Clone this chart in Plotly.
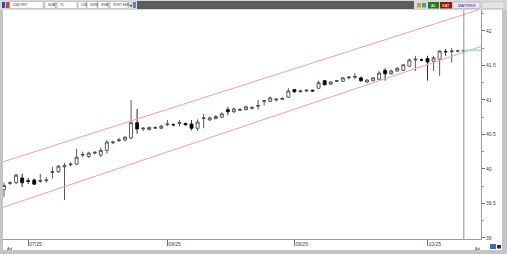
import plotly.graph_objects as go
import pandas as pd

# ---------------- data ----------------
dates = pd.bdate_range("2025-06-25", "2025-10-09")

opens = [39.70, 39.79, 39.80, 39.87, 39.83, 39.84, 39.82, 39.83, 39.95, 39.96,
         40.03, 40.06, 40.07, 40.20, 40.18, 40.23, 40.20, 40.27, 40.38, 40.41,
         40.42, 40.45, 40.67, 40.58, 40.57, 40.59, 40.59, 40.64, 40.64, 40.66,
         40.66, 40.65, 40.59, 40.73, 40.71, 40.73, 40.75, 40.86, 40.83, 40.85,
         40.86, 40.88, 40.91, 40.98, 40.98, 41.00, 41.01, 41.04, 41.15, 41.12,
         41.13, 41.14, 41.17, 41.28, 41.23, 41.27, 41.27, 41.32, 41.33, 41.32,
         41.26, 41.28, 41.30, 41.43, 41.38, 41.42, 41.43, 41.49, 41.58, 41.58,
         41.60, 41.56, 41.59, 41.70, 41.70, 41.71, 41.71]
highs = [39.80, 39.82, 39.93, 39.93, 39.87, 39.86, 39.93, 39.88, 40.03, 40.06,
         40.09, 40.10, 40.29, 40.25, 40.25, 40.26, 40.31, 40.42, 40.41, 40.45,
         40.48, 41.00, 40.87, 40.61, 40.62, 40.62, 40.64, 40.71, 40.66, 40.71,
         40.67, 40.71, 40.72, 40.80, 40.76, 40.78, 40.82, 40.90, 40.89, 40.88,
         40.92, 40.91, 41.00, 41.00, 41.05, 41.03, 41.04, 41.17, 41.16, 41.15,
         41.16, 41.15, 41.28, 41.29, 41.27, 41.29, 41.33, 41.35, 41.39, 41.34,
         41.30, 41.33, 41.42, 41.46, 41.44, 41.48, 41.52, 41.60, 41.64, 41.60,
         41.64, 41.64, 41.72, 41.74, 41.75, 41.73, 41.73]
lows = [39.59, 39.77, 39.78, 39.74, 39.78, 39.77, 39.80, 39.80, 39.86, 39.94,
        39.55, 40.04, 40.06, 40.17, 40.16, 40.21, 40.17, 40.22, 40.36, 40.39,
        40.40, 40.43, 40.51, 40.55, 40.56, 40.58, 40.58, 40.62, 40.62, 40.62,
        40.63, 40.56, 40.55, 40.59, 40.70, 40.72, 40.74, 40.78, 40.81, 40.84,
        40.85, 40.86, 40.86, 40.92, 40.97, 40.98, 41.00, 41.03, 41.10, 41.11,
        41.12, 41.12, 41.16, 41.21, 41.22, 41.26, 41.26, 41.30, 41.30, 41.26,
        41.25, 41.27, 41.29, 41.28, 41.37, 41.41, 41.42, 41.48, 41.42, 41.56,
        41.28, 41.42, 41.35, 41.64, 41.54, 41.69, 41.70]
closes = [39.76, 39.80, 39.91, 39.80, 39.82, 39.78, 39.83, 39.84, 39.96, 40.04,
          40.05, 40.07, 40.17, 40.21, 40.23, 40.24, 40.27, 40.39, 40.39, 40.42,
          40.46, 40.67, 40.58, 40.59, 40.60, 40.60, 40.62, 40.65, 40.64, 40.67,
          40.64, 40.59, 40.68, 40.74, 40.74, 40.76, 40.80, 40.83, 40.87, 40.86,
          40.90, 40.89, 40.92, 40.99, 41.03, 41.01, 41.02, 41.13, 41.12, 41.13,
          41.14, 41.13, 41.25, 41.22, 41.26, 41.28, 41.32, 41.33, 41.34, 41.28,
          41.29, 41.32, 41.39, 41.38, 41.42, 41.46, 41.51, 41.58, 41.59, 41.58,
          41.55, 41.61, 41.71, 41.70, 41.71, 41.71, 41.72]

# regression channel anchors (bar index, value)
channel_x = [-1, 80]
channel_upper = [40.08, 42.35]
channel_lower = [39.42, 41.81]

y_ticks = [39, 39.5, 40, 40.5, 41, 41.5, 42]

idx = list(range(len(dates)))
tick_idx = [i for i in idx if i > 0 and dates[i].month != dates[i - 1].month]
tick_text = [dates[i].strftime("%m/%y") for i in tick_idx]

# ---------------- geometry helpers (chrome) ----------------
W, H = 507, 254
ML, MR, MT, MB = 3, 26, 10, 15
PW, PH = W - ML - MR, H - MT - MB


def px(x):
    return (x - ML) / PW


def py(y):
    return (H - MB - y) / PH


fig = go.Figure()

fig.add_trace(go.Scatter(x=channel_x, y=channel_upper, mode="lines",
                         line=dict(color="#f2a0a0", width=1), hoverinfo="skip"))
fig.add_trace(go.Scatter(x=channel_x, y=channel_lower, mode="lines",
                         line=dict(color="#f2a0a0", width=1), hoverinfo="skip"))

fig.add_trace(go.Candlestick(
    x=idx, open=opens, high=highs, low=lows, close=closes,
    increasing=dict(line=dict(color="#4a4a4a", width=0.9), fillcolor="white"),
    decreasing=dict(line=dict(color="#111111", width=0.9), fillcolor="black"),
    whiskerwidth=0,
))

x_range = [-0.165, 78.84]
last_i = idx[-1]

shapes = [
    # cursor line at last bar
    dict(type="line", xref="x", yref="paper", x0=last_i, x1=last_i, y0=0, y1=1.0,
         line=dict(color="#909090", width=1)),
    # last price marker line
    dict(type="line", xref="x", yref="y", x0=last_i, x1=x_range[1],
         y0=closes[-1], y1=closes[-1], line=dict(color="#9fe3ee", width=2)),
    # frame: left strip, right strip, bottom strip
    dict(type="rect", xref="paper", yref="paper", x0=px(0), x1=px(3), y0=py(254), y1=py(0),
         fillcolor="#c4c4c4", line=dict(width=0)),
    dict(type="rect", xref="paper", yref="paper", x0=px(502), x1=px(507), y0=py(254), y1=py(0),
         fillcolor="#c4c4c4", line=dict(width=0)),
    dict(type="rect", xref="paper", yref="paper", x0=px(0), x1=px(507), y0=py(254), y1=py(250),
         fillcolor="#c4c4c4", line=dict(width=0)),
    # top toolbar
    dict(type="rect", xref="paper", yref="paper", x0=px(0), x1=px(507), y0=py(10), y1=py(0),
         fillcolor="#d8d8d8", line=dict(width=0)),
    dict(type="rect", xref="paper", yref="paper", x0=px(137), x1=px(414), y0=py(9), y1=py(1),
         fillcolor="#5c5c5c", line=dict(width=0)),
    dict(type="rect", xref="paper", yref="paper", x0=px(2), x1=px(5), y0=py(8), y1=py(2),
         fillcolor="#2050b0", line=dict(width=0)),
    dict(type="rect", xref="paper", yref="paper", x0=px(6), x1=px(9.5), y0=py(8), y1=py(2),
         fillcolor="#d04040", line=dict(width=0)),
    dict(type="rect", xref="paper", yref="paper", x0=px(133), x1=px(136), y0=py(8), y1=py(2),
         fillcolor="#3a8ee0", line=dict(width=0)),
    dict(type="rect", xref="paper", yref="paper", x0=px(428), x1=px(439), y0=py(8.5), y1=py(2),
         fillcolor="#1f7a1f", line=dict(width=0)),
    dict(type="rect", xref="paper", yref="paper", x0=px(440), x1=px(452), y0=py(8.5), y1=py(2),
         fillcolor="#9c1414", line=dict(width=0)),
    dict(type="rect", xref="paper", yref="paper", x0=px(453), x1=px(480), y0=py(8.5), y1=py(2),
         fillcolor="#e8e8f0", line=dict(color="#a0a0b0", width=0.5)),
    dict(type="rect", xref="paper", yref="paper", x0=px(482), x1=px(504), y0=py(8.5), y1=py(2),
         fillcolor="#e4e4e4", line=dict(color="#b8b8b8", width=0.5)),
    dict(type="rect", xref="paper", yref="paper", x0=px(417), x1=px(421), y0=py(7.5), y1=py(3),
         fillcolor="#d0a030", line=dict(width=0)),
    dict(type="rect", xref="paper", yref="paper", x0=px(422), x1=px(426), y0=py(7.5), y1=py(3),
         fillcolor="#40a0a0", line=dict(width=0)),
    # bottom-right icons
    dict(type="rect", xref="paper", yref="paper", x0=px(490), x1=px(496), y0=py(249), y1=py(244),
         fillcolor="#3070c0", line=dict(width=0)),
    dict(type="rect", xref="paper", yref="paper", x0=px(497), x1=px(501), y0=py(248.5), y1=py(245),
         fillcolor="#2a2a60", line=dict(width=0)),
]

# toolbar input boxes
boxes = [(10, 43, "USDTRY"), (45, 55, "SUB"), (57, 77, "TL"), (78, 86, "120"),
         (87, 97, "GÜN"), (98, 108, "SVB"), (110, 128, "SYKT HW")]
annotations = []
for x0, x1, txt in boxes:
    shapes.append(dict(type="rect", xref="paper", yref="paper", x0=px(x0), x1=px(x1),
                       y0=py(8.5), y1=py(1.5), fillcolor="white",
                       line=dict(color="#a0a0a0", width=0.5)))
    annotations.append(dict(xref="paper", yref="paper", x=px(x0 + 0.8), y=py(5),
                            text=txt, showarrow=False, xanchor="left", yanchor="middle",
                            font=dict(size=3.5, color="#303030", family="Liberation Sans")))

annotations += [
    dict(xref="paper", yref="paper", x=px(131), y=py(5), text="▾", showarrow=False,
         font=dict(size=4, color="#000"), xanchor="center", yanchor="middle"),
    dict(xref="paper", yref="paper", x=px(433.5), y=py(5.2), text="AL", showarrow=False,
         font=dict(size=4, color="white", family="Liberation Sans"), xanchor="center", yanchor="middle"),
    dict(xref="paper", yref="paper", x=px(446), y=py(5.2), text="SAT", showarrow=False,
         font=dict(size=4, color="white", family="Liberation Sans"), xanchor="center", yanchor="middle"),
    dict(xref="paper", yref="paper", x=px(466.5), y=py(5.2), text="MATRİKS", showarrow=False,
         font=dict(size=4, color="#2030a0", family="Liberation Sans"), xanchor="center", yanchor="middle"),
    dict(xref="paper", yref="paper", x=px(5), y=py(248.5), text="Ad", showarrow=False,
         font=dict(size=4, color="#404040", family="Liberation Sans"), xanchor="left", yanchor="middle"),
    dict(xref="paper", yref="paper", x=px(473), y=py(248.5), text="Ad", showarrow=False,
         font=dict(size=4, color="#404040", family="Liberation Sans"), xanchor="left", yanchor="middle"),
]

fig.update_layout(
    width=W, height=H,
    margin=dict(l=ML, r=MR, t=MT, b=MB, pad=0),
    paper_bgcolor="white", plot_bgcolor="white",
    showlegend=False,
    shapes=shapes,
    annotations=annotations,
    xaxis=dict(
        range=x_range, rangeslider=dict(visible=False),
        tickmode="array", tickvals=tick_idx, ticktext=tick_text,
        ticks="outside", ticklen=6, tickcolor="#707070",
        ticklabelposition="outside right",
        tickfont=dict(size=5, color="#404040", family="Liberation Sans"),
        showgrid=False, zeroline=False,
        showline=True, linecolor="#9a9a9a", linewidth=1,
        fixedrange=True,
    ),
    yaxis=dict(
        side="right", range=[38.985, 42.304],
        tickmode="array", tickvals=y_ticks,
        ticks="outside", ticklen=3, tickcolor="#707070",
        minor=dict(dtick=0.25, tick0=39, ticks="outside", ticklen=2, tickcolor="#909090"),
        tickfont=dict(size=5, color="#404040", family="Liberation Sans"),
        showgrid=False, zeroline=False,
        showline=True, linecolor="#9a9a9a", linewidth=1,
        fixedrange=True,
    ),
)

fig.write_html("out.html")
